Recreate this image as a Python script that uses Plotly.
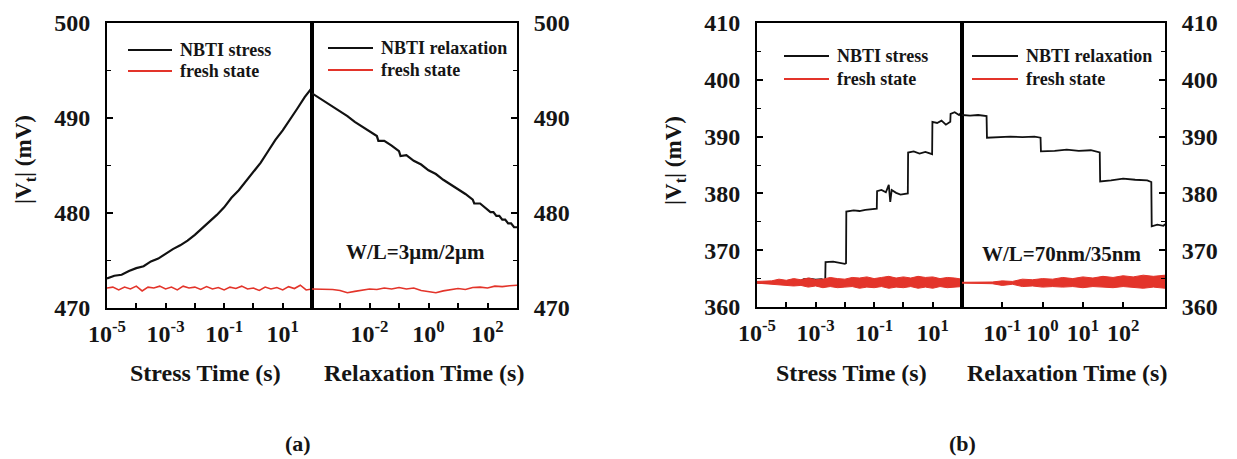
import plotly.graph_objects as go

W, H = 1237, 459
FONT = "Liberation Serif"
TXT = "#151515"
BLACK = "#111111"
RED = "#e3342a"

# ---------------- panel (a): W/L = 3um/2um ----------------
# stress phase, time in log10(s)
a_stress_logt = [-5.0, -4.75, -4.5, -4.25, -4.0, -3.75, -3.5, -3.25, -3.0, -2.75,
                 -2.5, -2.25, -2.0, -1.75, -1.5, -1.25, -1.0, -0.75, -0.5, -0.25,
                 0.0, 0.25, 0.5, 0.75, 1.0, 1.25, 1.5, 1.75, 2.0]
a_stress_vt = [473.1, 473.4, 473.5, 473.9, 474.2, 474.4, 474.9, 475.2, 475.7, 476.2,
               476.6, 477.1, 477.7, 478.4, 479.0, 479.8, 480.6, 481.6, 482.4, 483.4,
               484.4, 485.3, 486.5, 487.7, 488.7, 489.8, 491.0, 492.2, 493.2]

# relaxation phase
a_relax_logt = [-3.95, -3.75, -3.5, -3.25, -3.0, -2.75, -2.5, -2.25, -2.0, -1.75,
                -1.7, -1.5, -1.25, -1.0, -0.95, -0.75, -0.5, -0.25, 0.0, 0.25,
                0.5, 0.75, 1.0, 1.25, 1.5, 1.55, 1.75, 2.0, 2.1, 2.2,
                2.3, 2.4, 2.5, 2.6, 2.7, 2.8, 2.9, 3.0]
a_relax_vt = [492.6, 492.2, 491.7, 491.2, 490.7, 490.2, 489.6, 489.1, 488.6, 488.1,
              487.6, 487.6, 487.1, 486.5, 486.0, 486.1, 485.5, 485.1, 484.5, 484.1,
              483.5, 483.0, 482.5, 482.0, 481.4, 481.0, 481.0, 480.4, 480.1, 480.1,
              479.7, 479.7, 479.3, 479.3, 478.9, 478.9, 478.5, 478.5]

# fresh-state reference traces
a_fresh_s_logt = [-5.0, -4.8, -4.6, -4.4, -4.2, -4.0, -3.8, -3.6, -3.4, -3.2,
                  -3.0, -2.8, -2.6, -2.4, -2.2, -2.0, -1.8, -1.6, -1.4, -1.2,
                  -1.0, -0.8, -0.6, -0.4, -0.2, 0.0, 0.2, 0.4, 0.6, 0.8,
                  1.0, 1.2, 1.4, 1.6, 1.8, 2.0]
a_fresh_s_vt = [472.1, 472.2, 471.9, 472.2, 472.0, 472.3, 471.8, 472.2, 472.1, 472.3,
                472.0, 472.2, 471.9, 472.3, 472.1, 472.2, 471.95, 472.25, 472.0, 472.15,
                471.9, 472.2, 472.05, 472.3, 472.0, 472.1, 471.85, 472.2, 472.0, 472.15,
                471.9, 472.25, 472.05, 472.4, 471.9, 472.0]
a_fresh_r_logt = [-3.95, -3.75, -3.5, -3.25, -3.0, -2.75, -2.5, -2.25, -2.0, -1.75,
                  -1.5, -1.25, -1.0, -0.75, -0.5, -0.25, 0.0, 0.25, 0.5, 0.75,
                  1.0, 1.25, 1.5, 1.75, 2.0, 2.25, 2.5, 2.75, 3.0]
a_fresh_r_vt = [472.0, 472.0, 472.0, 471.95, 471.85, 471.6, 471.75, 471.9, 472.0, 471.95,
                472.1, 472.0, 472.15, 472.0, 472.1, 471.85, 471.7, 471.6, 471.8, 471.9,
                472.05, 471.95, 472.15, 472.2, 472.1, 472.3, 472.25, 472.35, 472.4]

# ---------------- panel (b): W/L = 70nm/35nm ----------------
b_stress_logt = [-5.0, -4.5, -4.0, -3.6, -3.4, -3.2, -3.0, -2.8, -2.67, -2.66,
                 -2.4, -2.2, -2.0, -1.96, -1.95, -1.7, -1.5, -1.3, -1.1, -0.91,
                 -0.9, -0.75, -0.6, -0.5, -0.45, -0.4, -0.25, -0.1, 0.15, 0.16,
                 0.35, 0.55, 0.75, 0.98, 0.99, 1.15, 1.3, 1.45, 1.6, 1.61,
                 1.75, 1.9, 2.0]
b_stress_vt = [364.3, 364.2, 364.4, 364.3, 364.9, 365.0, 364.8, 364.9, 364.7, 367.9,
               368.0, 367.8, 367.6, 367.7, 376.8, 377.0, 376.9, 377.1, 377.2, 377.3,
               380.4, 380.6, 380.2, 381.5, 378.5, 380.6, 380.1, 379.8, 380.0, 387.2,
               387.4, 387.0, 387.3, 386.9, 392.6, 392.4, 392.8, 392.1, 392.6, 394.0,
               394.3, 393.8, 394.4]

b_relax_logt = [-2.0, -1.8, -1.6, -1.39, -1.38, -1.1, -0.8, -0.5, -0.2, -0.05,
                -0.04, 0.3, 0.6, 0.9, 1.2, 1.42, 1.43, 1.7, 2.0, 2.3,
                2.6, 2.70, 2.71, 2.85, 3.0, 3.04]
b_relax_vt = [393.8, 393.7, 393.8, 393.6, 389.8, 389.9, 390.0, 389.9, 390.0, 389.8,
              387.4, 387.5, 387.7, 387.5, 387.6, 387.2, 382.1, 382.3, 382.6, 382.4,
              382.3, 382.0, 374.2, 374.5, 374.3, 374.6]

# fresh-state traces: lower / upper envelope of the noisy signal
b_fresh_s_logt = [-5.0, -4.75, -4.5, -4.25, -4.0, -3.75, -3.5, -3.25, -3.0, -2.75,
                  -2.5, -2.25, -2.0, -1.75, -1.5, -1.25, -1.0, -0.75, -0.5, -0.25,
                  0.0, 0.25, 0.5, 0.75, 1.0, 1.25, 1.5, 1.75, 2.0]
b_fresh_s_lo = [364.2, 364.1, 364.1, 364.0, 363.9, 363.7, 363.8, 363.5, 363.7, 363.4,
                363.6, 363.4, 363.5, 363.6, 363.3, 363.5, 363.4, 363.6, 363.3, 363.5,
                363.4, 363.6, 363.3, 363.5, 363.3, 363.6, 363.4, 363.5, 363.6]
b_fresh_s_hi = [364.5, 364.5, 364.6, 364.9, 364.7, 365.0, 364.8, 365.1, 364.8, 364.9,
                365.2, 365.0, 364.9, 365.2, 365.1, 365.3, 365.0, 365.2, 365.4, 365.1,
                365.3, 365.1, 365.4, 365.2, 365.3, 365.0, 365.2, 365.1, 364.9]
b_fresh_r_logt = [-2.0, -1.75, -1.5, -1.25, -1.0, -0.75, -0.5, -0.25, 0.0, 0.25,
                  0.5, 0.75, 1.0, 1.25, 1.5, 1.75, 2.0, 2.25, 2.5, 2.75, 3.04]
b_fresh_r_lo = [364.2, 364.2, 364.1, 364.1, 363.8, 364.0, 363.6, 363.7, 363.5, 363.6,
                363.5, 363.6, 363.4, 363.6, 363.5, 363.4, 363.6, 363.4, 363.3, 363.5, 363.3]
b_fresh_r_hi = [364.35, 364.35, 364.3, 364.4, 364.6, 364.5, 364.9, 364.8, 365.0, 364.9,
                365.2, 365.0, 365.3, 365.1, 365.4, 365.2, 365.5, 365.3, 365.6, 365.4, 365.6]

# ---------------- layout geometry (pixels) ----------------
A_X0, A_XM, A_X1 = 107, 312, 517
B_X0, B_XM, B_X1 = 757, 962, 1165
Y_TOP, A_Y_BOT, B_Y_BOT = 23, 308, 307


def fx(p):
    return p / W


def fy(p):
    return 1 - p / H


def t(logs):
    return [10.0 ** v for v in logs]


fig = go.Figure()


def line(x, y, xa, ya, color, width=2.0):
    fig.add_trace(go.Scatter(x=t(x), y=y, mode="lines", xaxis=xa, yaxis=ya,
                             line=dict(color=color, width=width), showlegend=False,
                             hoverinfo="skip"))


def band(x, lo, hi, xa, ya):
    fig.add_trace(go.Scatter(x=t(x), y=lo, mode="lines", xaxis=xa, yaxis=ya,
                             line=dict(color=RED, width=1.0), showlegend=False,
                             hoverinfo="skip"))
    fig.add_trace(go.Scatter(x=t(x), y=hi, mode="lines", xaxis=xa, yaxis=ya,
                             line=dict(color=RED, width=1.0), fill="tonexty",
                             fillcolor=RED, showlegend=False, hoverinfo="skip"))


line(a_fresh_s_logt, a_fresh_s_vt, "x", "y", RED, 1.6)
line(a_stress_logt, a_stress_vt, "x", "y", BLACK, 2.2)
line(a_fresh_r_logt, a_fresh_r_vt, "x2", "y2", RED, 1.6)
line(a_relax_logt, a_relax_vt, "x2", "y2", BLACK, 2.2)

line(b_stress_logt, b_stress_vt, "x3", "y3", BLACK, 1.8)
band(b_fresh_s_logt, b_fresh_s_lo, b_fresh_s_hi, "x3", "y3")
line(b_relax_logt, b_relax_vt, "x4", "y4", BLACK, 1.8)
band(b_fresh_r_logt, b_fresh_r_lo, b_fresh_r_hi, "x4", "y4")

tickfont = dict(family=FONT, size=24, color=TXT, weight="bold")


def sup(e):
    return f"10<sup>{e}</sup>"


def xaxis(dom, rng, vals, labels, anchor):
    return dict(type="log", domain=[fx(dom[0]), fx(dom[1])], range=rng, anchor=anchor,
                automargin=False,
                showline=True, linewidth=2, linecolor="black", mirror=True,
                ticks="inside", ticklen=5, tickwidth=1.5, tickcolor="black",
                tickvals=[10.0 ** v for v in vals], ticktext=labels,
                showgrid=False, zeroline=False, tickfont=tickfont, ticklabelstandoff=3)


def yaxis(ybot, rng, anchor, side):
    return dict(domain=[fy(ybot), fy(Y_TOP)], range=rng, anchor=anchor, side=side,
                automargin=False,
                showline=True, linewidth=2, linecolor="black", mirror=True,
                ticks="inside", ticklen=6, tickwidth=1.5, tickcolor="black",
                dtick=10, tick0=rng[0],
                minor=dict(dtick=5, ticks="inside", ticklen=4, tickwidth=1.2, tickcolor="black"),
                showgrid=False, zeroline=False, tickfont=tickfont, ticklabelstandoff=10)


fig.update_layout(
    width=W, height=H, autosize=False, margin=dict(l=0, r=0, t=0, b=0, pad=0),
    paper_bgcolor="white", plot_bgcolor="white",
    font=dict(family=FONT, color=TXT),
    xaxis=xaxis((A_X0, A_XM), [-5, 2], [-5, -4, -3, -2, -1, 0, 1],
                [sup(-5), "", sup(-3), "", sup(-1), "", sup(1)], "y"),
    xaxis2=xaxis((A_XM, A_X1), [-3.95, 3.0], [-3, -2, -1, 0, 1, 2],
                 ["", sup(-2), "", sup(0), "", sup(2)], "y2"),
    xaxis3=xaxis((B_X0, B_XM), [-5, 2], [-5, -4, -3, -2, -1, 0, 1],
                 [sup(-5), "", sup(-3), "", sup(-1), "", sup(1)], "y3"),
    xaxis4=xaxis((B_XM, B_X1), [-2, 3.04], [-1, 0, 1, 2],
                 [sup(-1), sup(0), sup(1), sup(2)], "y4"),
    yaxis=yaxis(A_Y_BOT, [470, 500], "x", "left"),
    yaxis2=yaxis(A_Y_BOT, [470, 500], "x2", "right"),
    yaxis3=yaxis(B_Y_BOT, [360, 410], "x3", "left"),
    yaxis4=yaxis(B_Y_BOT, [360, 410], "x4", "right"),
)

shapes = []
annotations = []


def text(x, y, s, size, xanchor="center", angle=0):
    annotations.append(dict(x=fx(x), y=fy(y), xref="paper", yref="paper", text=s,
                            showarrow=False, xanchor=xanchor, yanchor="middle",
                            textangle=angle,
                            font=dict(family=FONT, size=size, color=TXT, weight="bold")))


def legend_entry(x0, x1, y, color, label):
    shapes.append(dict(type="line", xref="paper", yref="paper",
                       x0=fx(x0), x1=fx(x1), y0=fy(y), y1=fy(y),
                       line=dict(color=color, width=2)))
    text(x1 + 6, y, label, 18, "left")


legend_entry(128, 172, 50, BLACK, "NBTI stress")
legend_entry(128, 172, 71, RED, "fresh state")
legend_entry(328, 373, 48, BLACK, "NBTI relaxation")
legend_entry(328, 373, 70, RED, "fresh state")
legend_entry(784, 829, 56, BLACK, "NBTI stress")
legend_entry(784, 829, 79, RED, "fresh state")
legend_entry(972, 1018, 56, BLACK, "NBTI relaxation")
legend_entry(972, 1018, 79, RED, "fresh state")

text(415, 252, "W/L=3\u03bcm/2\u03bcm", 21)
text(1061, 254, "W/L=70nm/35nm", 21)

text(205, 373, "Stress Time (s)", 24)
text(424, 373, "Relaxation Time (s)", 24)
text(851, 373, "Stress Time (s)", 24)
text(1067, 373, "Relaxation Time (s)", 24)

text(25, 160, "|V<sub>t</sub>| (mV)", 23, angle=-90)
text(675, 160, "|V<sub>t</sub>| (mV)", 23, angle=-90)

text(298, 443, "(a)", 22)
text(962, 443, "(b)", 22)

fig.update_layout(shapes=shapes, annotations=annotations)
fig.write_html("out.html")
